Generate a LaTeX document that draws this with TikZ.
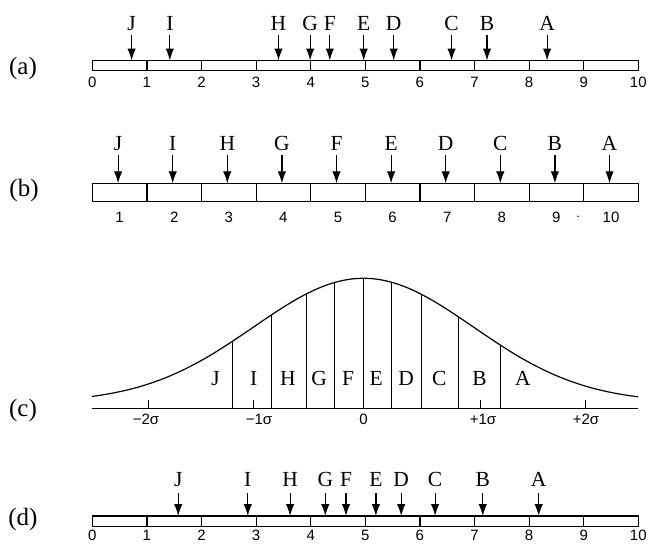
\documentclass[tikz,border=0pt]{standalone}
\usepackage{fontspec}
\setmainfont{Liberation Serif}
\newfontfamily\numfont{Liberation Sans}
\usetikzlibrary{arrows.meta}
\begin{document}
\begin{tikzpicture}[x=1pt,y=-1pt,
  letter/.style={font=\fontsize{21.5}{21.5}\selectfont, anchor=base, inner sep=0pt},
  rowlab/.style={font=\fontsize{25}{25}\selectfont, inner sep=0pt},
  digit/.style={font=\numfont\fontsize{15}{15}\selectfont, anchor=base, inner sep=0pt},
  pointer/.style={line width=1.2pt, -{Latex[length=12pt,width=8.5pt]}},
  barline/.style={line width=1.2pt},
]
\useasboundingbox (0,0) rectangle (651,544);
\def\xo{92.3}
\def\cw{54.6}
% row labels
\node[rowlab] (la) at (23,68) {(a)};
\node[rowlab] (lb) at (24,190) {(b)};
\node[rowlab] (lc) at (23,410) {(c)};
\node[rowlab] (ld) at (23,519) {(d)};
% bars
\foreach \yt/\yb/\r in {60.5/70.7/a, 183.3/201.7/b, 516/526.5/d}{
  \draw[barline] (\xo,\yt) rectangle (638.3,\yb);
  \foreach \i in {1,...,9}{
    \draw[barline] ({\xo+\cw*\i},\yt) -- ({\xo+\cw*\i},\yb);
  }
}
% row (a)
\foreach \i in {0,...,10}{
  \node[digit] (da\i) at ({\xo+\cw*\i},87) {\i};
}
\foreach \L/\v in {J/0.72, I/1.42, H/3.41, G/3.99, F/4.35, E/4.97, D/5.52, C/6.58, B/7.23, A/8.33}{
  \node[letter] (a\L) at ({\xo+\cw*\v},30.7) {\L};
  \coordinate (a\L t) at ({\xo+\cw*\v},60.5);
  \draw[pointer] ([yshift=-4.3pt]a\L.base) -- (a\L t);
}
% row (b)
\foreach \i/\L in {1/J,2/I,3/H,4/G,5/F,6/E,7/D,8/C,9/B,10/A}{
  \node[digit] (db\i) at ({\xo+\cw*(\i-0.5)},222.5) {\i};
  \node[letter] (b\L) at ({\xo+\cw*(\i-0.5)-1.5},150) {\L};
  \coordinate (b\L t) at ({\xo+\cw*(\i-0.5)-1.5},183.3);
  \draw[pointer] ([yshift=-5pt]b\L.base) -- (b\L t);
}
\node[digit, anchor=center] (dot) at (578,217) {$\cdot$};
% row (c)
\def\mu{363.5}
\def\sg{110}
\draw[barline] plot[domain=92:638, samples=160, smooth] (\x, {408.3-6-124*exp(-0.5*((\x-\mu)/\sg)^2)});
\draw[barline] (92,408.3) -- (638,408.3);
\foreach \xx in {232.9, 271.4, 306.7, 334, 363.5, 391.6, 421.5, 458.8, 500.2}{
  \draw[line width=1pt] (\xx,408.3) -- (\xx, {408.3-6-124*exp(-0.5*((\xx-\mu)/\sg)^2)});
}
\foreach \xx in {148, 253.6, 480.7, 585.2}{
  \draw[line width=1pt] (\xx,400) -- (\xx,408.3);
}
\foreach \L/\xx in {J/215.5, I/253.6, H/288, G/319.1, F/348.1, E/376.3, D/406.1, C/439.3, B/479.5, A/523}{
  \node[letter] (c\L) at (\xx,385) {\L};
}
\node[digit] (s1) at (146,424) {−2σ};
\node[digit] (s2) at (259,424) {−1σ};
\node[digit] (s3) at (363.5,424) {0};
\node[digit] (s4) at (483,424) {+1σ};
\node[digit] (s5) at (586,424) {+2σ};
% row (d)
\foreach \i in {0,...,10}{
  \node[digit] (dd\i) at ({\xo+\cw*\i},540.5) {\i};
}
\foreach \L/\xx in {J/178.2, I/247.8, H/290.1, G/325.3, F/346, E/375.9, D/401.2, C/435.1, B/482.8, A/538.7}{
  \node[letter] (d\L) at (\xx,486.3) {\L};
  \coordinate (d\L t) at (\xx,516);
  \draw[pointer] ([yshift=-6.5pt]d\L.base) -- (d\L t);
}
\end{tikzpicture}
\end{document}
